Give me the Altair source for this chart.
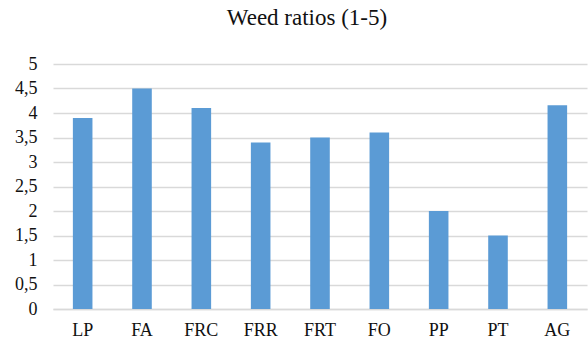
import altair as alt
import pandas as pd

categories = ["LP", "FA", "FRC", "FRR", "FRT", "FO", "PP", "PT", "AG"]
values = [3.9, 4.5, 4.1, 3.4, 3.5, 3.6, 2.0, 1.5, 4.16]
y_ticks = [0, 0.5, 1, 1.5, 2, 2.5, 3, 3.5, 4, 4.5, 5]

df = pd.DataFrame({"cat": categories, "val": values})

FONT = "Liberation Serif"

chart = alt.Chart(df).mark_bar(color="#5B9BD5").encode(
    x=alt.X("cat:N", sort=categories, title=None,
            scale=alt.Scale(paddingInner=0.67, paddingOuter=0.335),
            axis=alt.Axis(labelAngle=0, labelFont=FONT, labelFontSize=18,
                          labelColor="#111", ticks=False, domainColor="#D9D9D9",
                          domainWidth=1.5, labelPadding=12)),
    y=alt.Y("val:Q", title=None,
            scale=alt.Scale(domain=[0, 5], nice=False),
            axis=alt.Axis(values=y_ticks, labelFont=FONT, labelFontSize=18,
                          labelColor="#111", ticks=False, domain=False,
                          gridColor="#D9D9D9", gridWidth=1.5, labelPadding=16,
                          labelExpr="replace(format(datum.value, '.1~f'), '.', ',')")),
).properties(
    width=534, height=245,
    title=alt.TitleParams("Weed ratios (1-5)", font=FONT, fontSize=23,
                          fontWeight="normal", color="#111", anchor="middle",
                          dx=-13, offset=25),
    autosize=alt.AutoSizeParams(type="none"),
    padding={"left": 53, "top": 64, "right": 1, "bottom": 33},
).configure_view(stroke=None)

chart.save("out.html", embed_options={"renderer": "svg", "actions": False})
